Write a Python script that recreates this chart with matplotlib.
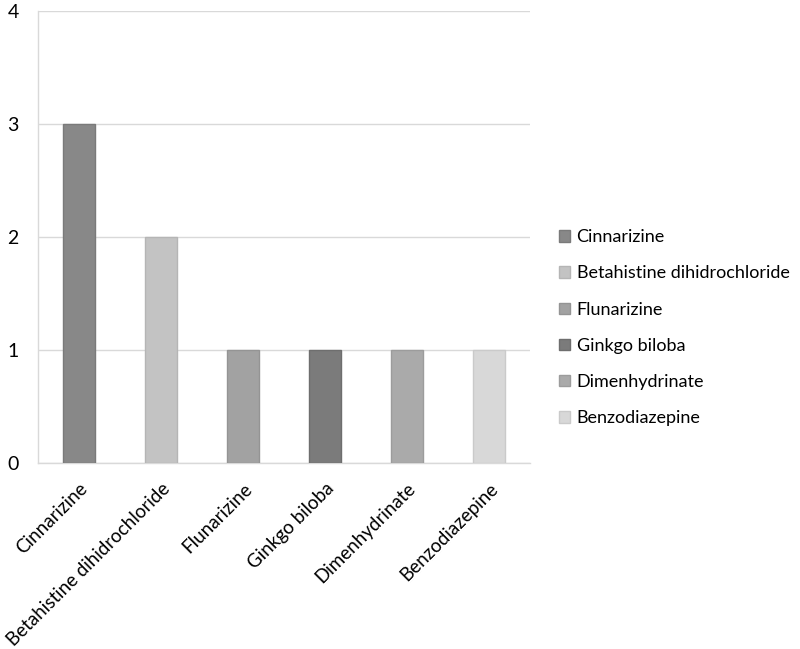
import matplotlib
matplotlib.use("Agg")
import matplotlib.pyplot as plt
from matplotlib.patches import Patch

categories = ["Cinnarizine", "Betahistine dihidrochloride", "Flunarizine",
              "Ginkgo biloba", "Dimenhydrinate", "Benzodiazepine"]
values = [3, 2, 1, 1, 1, 1]
colors = ["#888888", "#c3c3c3", "#a2a2a2", "#7b7b7b", "#aaaaaa", "#d8d8d8"]
edges = ["#7a7a7a", "#b5b5b5", "#949494", "#6e6e6e", "#9c9c9c", "#cacaca"]
yticks = [0, 1, 2, 3, 4]

plt.rcParams['font.family'] = ['Lato', 'DejaVu Sans']

fig = plt.figure(figsize=(8, 6.49), dpi=100)
ax = fig.add_axes([38/800, 1-463/649, 492/800, 452/649])

x = list(range(len(categories)))
ax.bar(x, values, width=0.39, color=colors, edgecolor=edges, linewidth=1, zorder=3)
ax.set_xlim(-0.5, len(categories)-0.5)
ax.set_ylim(0, 4)
ax.set_yticks(yticks)
ax.set_yticklabels([str(t) for t in yticks], fontsize=14)
ax.yaxis.grid(True, color="#d9d9d9", linewidth=1, zorder=0)
ax.set_xticks(x)
ax.set_xticklabels(categories, rotation=45, ha='right', va='top', rotation_mode='anchor', fontsize=13.5)
ax.tick_params(axis='y', length=0, pad=14)
ax.tick_params(axis='x', length=0, pad=12)
for s in ['top', 'right']:
    ax.spines[s].set_visible(False)
for s in ['left', 'bottom']:
    ax.spines[s].set_color('#d9d9d9')
    ax.spines[s].set_linewidth(1)

handles = [Patch(facecolor=c, edgecolor=e) for c, e in zip(colors, edges)]
fig.legend(handles, categories, loc='center left', bbox_to_anchor=(0.679, 0.495),
           frameon=False, fontsize=13, handlelength=0.6, handleheight=0.6,
           handletextpad=0.35, labelspacing=1.12)

fig.savefig("out.png", dpi=100)
